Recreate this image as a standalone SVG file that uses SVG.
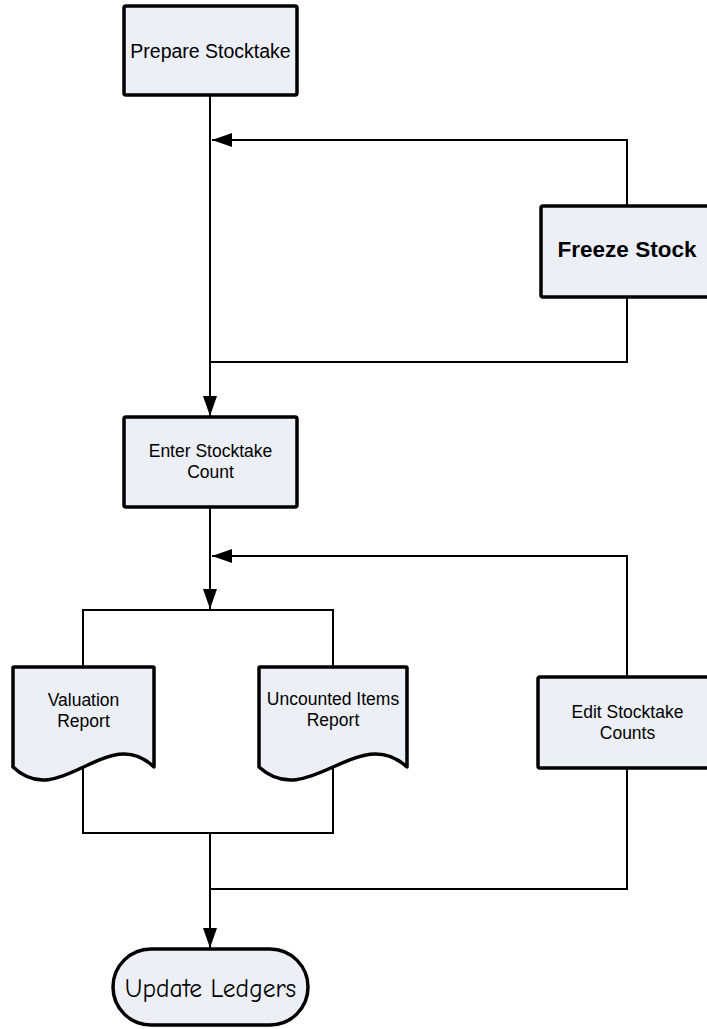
<svg xmlns="http://www.w3.org/2000/svg" width="707" height="1029" viewBox="0 0 707 1029">
<style>
.box{fill:#ECEFF5;stroke:#000;stroke-width:3.5;stroke-linejoin:round}
.ln{fill:none;stroke:#000;stroke-width:2}
.t{font-family:"Liberation Sans",Arial,sans-serif;font-size:17.5px;fill:#000;text-anchor:middle}
</style>
<defs>
<marker id="ah" viewBox="0 0 20 14" refX="20" refY="7" markerWidth="20" markerHeight="14" markerUnits="userSpaceOnUse" orient="auto">
<path d="M0,0 L20,7 L0,14 Z" fill="#000"/>
</marker>
</defs>
<rect width="707" height="1029" fill="#fff"/>
<g id="connectors">
<line class="ln" x1="210" y1="96" x2="210" y2="416" marker-end="url(#ah)"/>
<polyline class="ln" points="627,205 627,140 212,140" marker-end="url(#ah)"/>
<polyline class="ln" points="627,297 627,362 210,362"/>
<line class="ln" x1="210" y1="507" x2="210" y2="609" marker-end="url(#ah)"/>
<polyline class="ln" points="627,677 627,556 212,556" marker-end="url(#ah)"/>
<polyline class="ln" points="83,667 83,610 333,610 333,667"/>
<polyline class="ln" points="83,766 83,833 333,833 333,766"/>
<line class="ln" x1="210" y1="833" x2="210" y2="948" marker-end="url(#ah)"/>
<polyline class="ln" points="627,768 627,889 210,889"/>
</g>
<g id="prepare">
<rect class="box" x="124" y="6" width="173" height="89" rx="2"/>
<text class="t" x="210.5" y="58" style="font-size:19.5px">Prepare Stocktake</text>
</g>
<g id="freeze">
<rect class="box" x="541" y="206" width="176" height="91" rx="2"/>
<text class="t" x="627" y="257" style="font-size:22.5px;font-weight:bold">Freeze Stock</text>
</g>
<g id="enter">
<rect class="box" x="124" y="417" width="173" height="90" rx="2"/>
<text class="t" x="210.5" y="457">Enter Stocktake</text>
<text class="t" x="210.5" y="478">Count</text>
</g>
<g id="valuation">
<path class="box" d="M13,767 L13,668 Q13,667 14,667 L153,667 Q154,667 154,668 L154,767 C107,722 60,812 13,767 Z"/>
<text class="t" x="83.5" y="706">Valuation</text>
<text class="t" x="83.5" y="727">Report</text>
</g>
<g id="uncounted">
<path class="box" d="M259,767 L259,668 Q259,667 260,667 L406,667 Q407,667 407,668 L407,767 C358,722 308,812 259,767 Z"/>
<text class="t" x="333" y="705">Uncounted Items</text>
<text class="t" x="333" y="726">Report</text>
</g>
<g id="edit">
<rect class="box" x="538" y="677" width="178" height="91" rx="2"/>
<text class="t" x="627.5" y="718">Edit Stocktake</text>
<text class="t" x="627.5" y="739">Counts</text>
</g>
<g id="update">
<rect class="box" x="113" y="949" width="195" height="76" rx="38"/>
<text x="210.5" y="997" text-anchor="middle" style="font-family:'Comic Sans MS','Comic Neue','DejaVu Sans',sans-serif;font-size:25.5px;fill:#000">Update Ledgers</text>
</g>
</svg>
